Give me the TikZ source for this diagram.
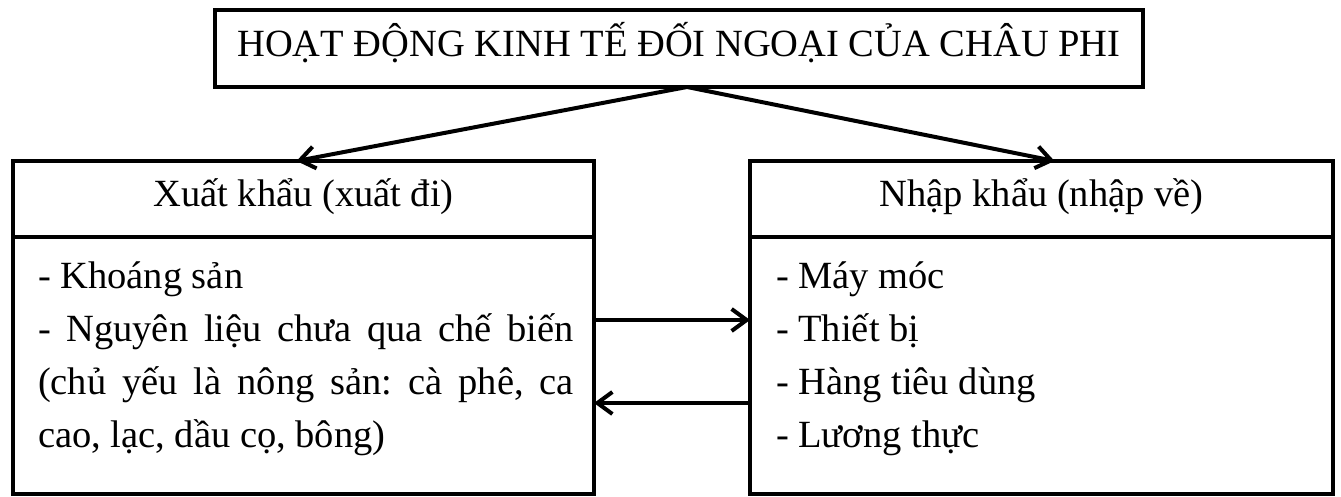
\documentclass[tikz,border=0pt]{standalone}
\usepackage{fontspec}
\setmainfont{Liberation Serif}
\usetikzlibrary{arrows.meta}
\frenchspacing

\begin{document}
\begin{tikzpicture}[x=1pt,y=-1pt,line width=4pt,
    box node/.style={draw,rectangle,inner sep=0pt,outer sep=0pt,text height=27pt,text depth=11pt,font=\fontsize{38.5}{46}\selectfont},
    item node/.style={anchor=base west,inner sep=0pt,font=\fontsize{38.5}{46}\selectfont},
    every edge/.style={draw,line width=4pt,-{Straight Barb[length=15pt,width=22pt,line width=4pt]}}]
    \useasboundingbox (0,0) rectangle (1341,497);

    % khung tieu de
    \node[box node,minimum width=928pt,minimum height=77pt] at (679,48.5) (title) {HOẠT ĐỘNG KINH TẾ ĐỐI NGOẠI CỦA CHÂU PHI};

    % hai khung xuat / nhap
    \node[box node,minimum width=581pt,minimum height=76pt] at (303.5,199) (xhead) {Xuất khẩu (xuất đi)};
    \node[box node,minimum width=581pt,minimum height=257pt] at (303.5,365.5) (xbody) {};
    \node[box node,minimum width=583pt,minimum height=76pt] at (1041.5,199) (nhead) {Nhập khẩu (nhập về)};
    \node[box node,minimum width=583pt,minimum height=257pt] at (1041.5,365.5) (nbody) {};

    \node[item node] at (36,288) (x1) {- Khoáng sản};
    \node[item node] at (36,341) (x2) {\makebox[536pt][s]{- Nguyên liệu chưa qua chế biến}};
    \node[item node] at (36,394) (x3) {\makebox[536pt][s]{(chủ yếu là nông sản: cà phê, ca}};
    \node[item node] at (36,447) (x4) {cao, lạc, dầu cọ, bông)};

    \node[item node] at (774,288) (n1) {- Máy móc};
    \node[item node] at (774,341) (n2) {- Thiết bị};
    \node[item node] at (774,394) (n3) {- Hàng tiêu dùng};
    \node[item node] at (774,447) (n4) {- Lương thực};

    \path ([xshift=8pt]title.south) edge ([xshift=-7pt]xhead.north)
          ([xshift=8pt]title.south) edge ([xshift=13pt]nhead.north);
    \path (xbody.east |- 0,320) edge (nbody.west |- 0,320)
          (nbody.west |- 0,403) edge (xbody.east |- 0,403);
\end{tikzpicture}
\end{document}
